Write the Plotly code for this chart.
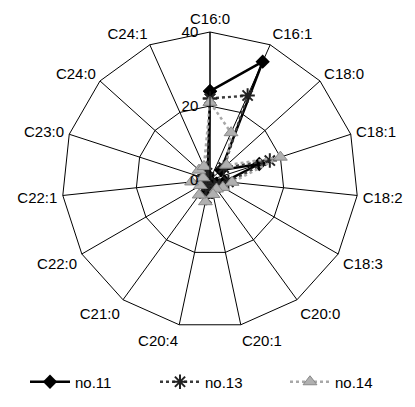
import plotly.graph_objects as go

categories = ["C16:0", "C16:1", "C18:0", "C18:1", "C18:2", "C18:3", "C20:0", "C20:1",
              "C20:4", "C21:0", "C22:0", "C22:1", "C23:0", "C24:0", "C24:1"]
no11 = [24, 35, 4, 14, 4, 2, 1, 2, 3, 1, 1, 1, 0.5, 1, 1.5]
no13 = [22, 25, 5, 17, 5, 3, 2, 3, 5, 2, 2, 2, 1, 2, 2]
no14 = [21, 14, 6, 20, 6, 4, 3, 4, 6, 5, 3, 5, 2, 4, 4]
radial_ticks = [0, 20, 40]

def closed(v):
    return list(v) + [v[0]]

cats_c = closed(categories)

fig = go.Figure()
fig.add_trace(go.Scatterpolar(
    r=closed(no11), theta=cats_c, name="no.11", mode="lines+markers",
    line=dict(color="black", width=2.5),
    marker=dict(symbol="diamond", size=11, color="black"),
))
fig.add_trace(go.Scatterpolar(
    r=closed(no13), theta=cats_c, name="no.13", mode="lines+markers",
    line=dict(color="#3a3a3a", width=2.5, dash="dot"),
    marker=dict(symbol="asterisk-open", size=12, color="#222",
                line=dict(color="#222", width=2)),
))
fig.add_trace(go.Scatterpolar(
    r=closed(no14), theta=cats_c, name="no.14", mode="lines+markers",
    line=dict(color="#a8a8a8", width=2.5, dash="dot"),
    marker=dict(symbol="triangle-up", size=12, color="#b0b0b0",
                line=dict(color="#888", width=1)),
))

# page body has an 8px margin, so work in figure coords = screen - 8
W, H = 407, 399
cx, cy, R = 202, 172, 148
fig.update_layout(
    width=W, height=H,
    margin=dict(l=0, r=0, t=0, b=0),
    paper_bgcolor="white", plot_bgcolor="white",
    font=dict(family="Liberation Sans, Arial, sans-serif", size=15, color="black"),
    polar=dict(
        domain=dict(x=[(cx - R) / W, (cx + R) / W], y=[1 - (cy + R) / H, 1 - (cy - R) / H]),
        bgcolor="white",
        gridshape="linear",
        angularaxis=dict(
            direction="clockwise", rotation=90,
            showline=True, linecolor="black", linewidth=1,
            gridcolor="black", gridwidth=1,
            ticks="outside", ticklen=2, tickcolor="rgba(0,0,0,0)",
            tickfont=dict(size=15, color="black"),
        ),
        radialaxis=dict(
            range=[0, 40], tickvals=radial_ticks, ticktext=[str(t) for t in radial_ticks],
            angle=90, tickangle=90, side="counterclockwise",
            showline=True, linecolor="black", linewidth=1,
            gridcolor="black", gridwidth=1,
            ticks="outside", ticklen=6, tickcolor="rgba(0,0,0,0)",
            tickfont=dict(size=15, color="black"),
        ),
    ),
    showlegend=True,
    legend=dict(orientation="h", x=24 / W, xanchor="left", y=1 - 374 / H, yanchor="middle",
                font=dict(size=15), itemwidth=40, entrywidth=75, entrywidthmode="pixels",
                bgcolor="rgba(0,0,0,0)"),
)

fig.write_html("out.html")
